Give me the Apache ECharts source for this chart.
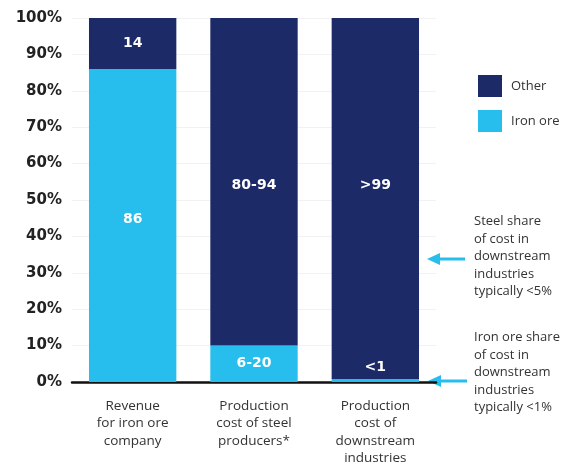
<!DOCTYPE html>
<html><head><meta charset="utf-8">
<script src="https://cdn.jsdelivr.net/npm/echarts@6/dist/echarts.min.js"></script>
<style>html,body{margin:0;padding:0;background:#fff}#c{width:569px;height:467px}</style>
</head><body><div id="c"></div>
<script>
var categories = ['Revenue\nfor iron ore\ncompany', 'Production\ncost of steel\nproducers*', 'Production\ncost of\ndownstream\nindustries'];
var ironOre = [86, 10, 0.8];
var other = [14, 90, 99.2];
var ironOreLabels = ['86', '6-20', '<1'];
var otherLabels = ['14', '80-94', '>99'];
var yTicks = [0, 10, 20, 30, 40, 50, 60, 70, 80, 90, 100];

var navy = '#1d2a68';
var sky = '#27bdec';
var font = 'Open Sans';

var ironLabelPos = [['50%', '48%'], ['50%', '50%'], ['50%', -12]];
var otherLabelPos = [['50%', '50%'], ['50%', 167], ['50%', 167]];

function labelled(values, names, pos) {
  return values.map(function (v, i) {
    return {value: v, label: {position: pos[i], formatter: names[i]}};
  });
}

var chart = echarts.init(document.getElementById('c'), null, {renderer: 'canvas'});
chart.setOption({
  backgroundColor: '#fff',
  animation: false,
  textStyle: {fontFamily: font},
  grid: {left: 72, right: 133, top: 18, bottom: 83},
  legend: {
    orient: 'vertical', left: 473, top: 70, itemWidth: 24, itemHeight: 22, itemGap: 13,
    icon: 'rect',
    data: ['Other', 'Iron ore'],
    textStyle: {fontFamily: font, fontSize: 13, color: '#333', padding: [0, 0, 0, 4]}
  },
  xAxis: {
    type: 'category', data: categories,
    axisLine: {show: true, lineStyle: {color: '#111', width: 2.5}},
    axisTick: {show: false},
    axisLabel: {fontFamily: font, fontSize: 13.5, color: '#333', lineHeight: 17.5, margin: 15, interval: 0}
  },
  yAxis: {
    type: 'value', min: yTicks[0], max: yTicks[yTicks.length - 1], interval: 10,
    axisLine: {show: false}, axisTick: {show: false},
    splitLine: {show: true, lineStyle: {color: '#f2f2f2', width: 1}},
    axisLabel: {formatter: '{value}%', fontFamily: 'DejaVu Sans', fontWeight: 'bold', fontSize: 15, color: '#222', margin: 10}
  },
  series: [
    {
      name: 'Iron ore', type: 'bar', stack: 's', data: labelled(ironOre, ironOreLabels, ironLabelPos), barWidth: '72%',
      itemStyle: {color: sky},
      label: {show: true, align: 'center', verticalAlign: 'middle',
        color: '#fff', fontFamily: 'DejaVu Sans', fontSize: 14, fontWeight: 'bold'}
    },
    {
      name: 'Other', type: 'bar', stack: 's', data: labelled(other, otherLabels, otherLabelPos), barWidth: '72%',
      itemStyle: {color: navy},
      label: {show: true, align: 'center', verticalAlign: 'middle',
        color: '#fff', fontFamily: 'DejaVu Sans', fontSize: 14, fontWeight: 'bold'}
    }
  ],
  graphic: [
    {type: 'line', shape: {x1: 465, y1: 259, x2: 436, y2: 259}, style: {stroke: sky, lineWidth: 3}},
    {type: 'polygon', shape: {points: [[427, 259], [440, 253], [440, 265]]}, style: {fill: sky}},
    {type: 'line', shape: {x1: 467, y1: 381, x2: 437, y2: 381}, style: {stroke: sky, lineWidth: 3}},
    {type: 'polygon', shape: {points: [[428, 381], [441, 375], [441, 387]]}, style: {fill: sky}},
    {type: 'text', left: 474, top: 213, style: {text: 'Steel share\nof cost in\ndownstream\nindustries\ntypically <5%', fontFamily: font, fontSize: 13, lineHeight: 17.5, fill: '#333'}},
    {type: 'text', left: 474, top: 329, style: {text: 'Iron ore share\nof cost in\ndownstream\nindustries\ntypically <1%', fontFamily: font, fontSize: 13, lineHeight: 17.5, fill: '#333'}}
  ]
});
</script>
</body></html>
